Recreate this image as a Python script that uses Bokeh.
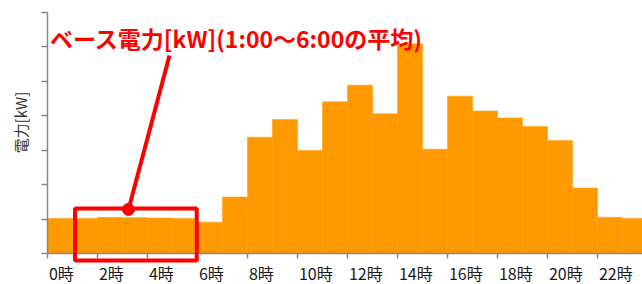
import math
from bokeh.plotting import figure
from bokeh.models import Range1d, FixedTicker, BoxAnnotation, Label, LinearAxis
from bokeh.embed import file_html
from bokeh.resources import INLINE

hours = list(range(24))
power = [1.02, 1.02, 1.05, 1.04, 1.03, 1.02, 0.91, 1.64, 3.38, 3.89, 2.99, 4.41,
         4.89, 4.06, 6.09, 3.03, 4.57, 4.14, 3.94, 3.69, 3.28, 1.90, 1.05, 1.02]
tick_hours = list(range(0, 24, 2))
tick_texts = [f"{h}時" for h in tick_hours]
y_ticks = list(range(0, 8))
annotation_text = "ベース電力[kW](1:00〜6:00の平均)"
ylabel = "電力[kW]"

FONT = "Noto Sans CJK JP"
LABEL_PX = 16
PX_PER_HOUR = 25.0

p = figure(width=642, height=284, output_backend="svg", toolbar_location=None,
           x_range=Range1d(-1.88, 23.8), y_range=Range1d(-0.9, 7.35),
           min_border=0)
p.outline_line_color = None
p.grid.grid_line_color = None
p.background_fill_color = "white"

p.quad(left=[h for h in hours], right=[h + 1 for h in hours], bottom=0, top=power,
       fill_color="#FF9900", line_color="#FF9900", line_width=0.5)

# axes
for ax in (p.xaxis[0], p.yaxis[0]):
    ax.axis_line_color = "#878787"
    ax.major_tick_line_color = "#878787"
    ax.minor_tick_line_color = None
    ax.major_tick_in = 0
    ax.axis_line_width = 1.5
    ax.major_tick_line_width = 1.5
    ax.fixed_location = 0

p.xaxis.bounds = (0, 23.8)
p.xaxis.ticker = FixedTicker(ticks=tick_hours)
p.xaxis.major_label_overrides = {h: "" for h in tick_hours}
p.xaxis.major_tick_out = 5

# labels start just right of each tick (left-aligned look)
def label_pos(h, txt):
    width_px = (len(txt) - 1) * 0.55 * LABEL_PX + LABEL_PX
    return h + (1.5 + width_px / 2) / PX_PER_HOUR

label_ticks = [label_pos(h, t) for h, t in zip(tick_hours, tick_texts)]
lab_axis = LinearAxis(fixed_location=0, ticker=FixedTicker(ticks=label_ticks),
                      major_label_overrides={lt: t for lt, t in zip(label_ticks, tick_texts)},
                      axis_line_color=None, major_tick_line_color=None,
                      minor_tick_line_color=None, major_tick_in=0, major_tick_out=5,
                      major_label_standoff=2, major_label_text_font=FONT,
                      major_label_text_font_size=f"{LABEL_PX}px",
                      major_label_text_color="#1a1a1a")
p.add_layout(lab_axis, "below")

p.yaxis.bounds = (0, 7)
p.yaxis.ticker = FixedTicker(ticks=y_ticks)
p.yaxis.major_label_overrides = {t: "" for t in y_ticks}
p.yaxis.major_tick_out = 6

p.add_layout(Label(x=19.5, y=284 - 122, x_units="screen", y_units="screen",
                   text=ylabel, angle=math.pi / 2, text_align="center",
                   text_baseline="middle", text_font=FONT, text_font_size="15px",
                   text_color="#333333"))

# annotation: box, connector line, dot, text
RED = "#FF0000"
p.add_layout(BoxAnnotation(left=1.1, right=5.97, bottom=-0.2, top=1.31,
                           fill_alpha=0, line_color=RED, line_width=4, line_alpha=1))
p.line(x=[4.88, 3.24], y=[5.75, 1.28], line_color=RED, line_width=4)
p.scatter(x=[3.24], y=[1.28], size=12, fill_color=RED, line_color=RED)
p.add_layout(Label(x=0.1, y=6.25, text=annotation_text, text_color=RED,
                   text_font=FONT, text_font_style="bold", text_font_size="23px",
                   text_baseline="middle"))

open("out.html", "w").write(file_html(p, INLINE))
